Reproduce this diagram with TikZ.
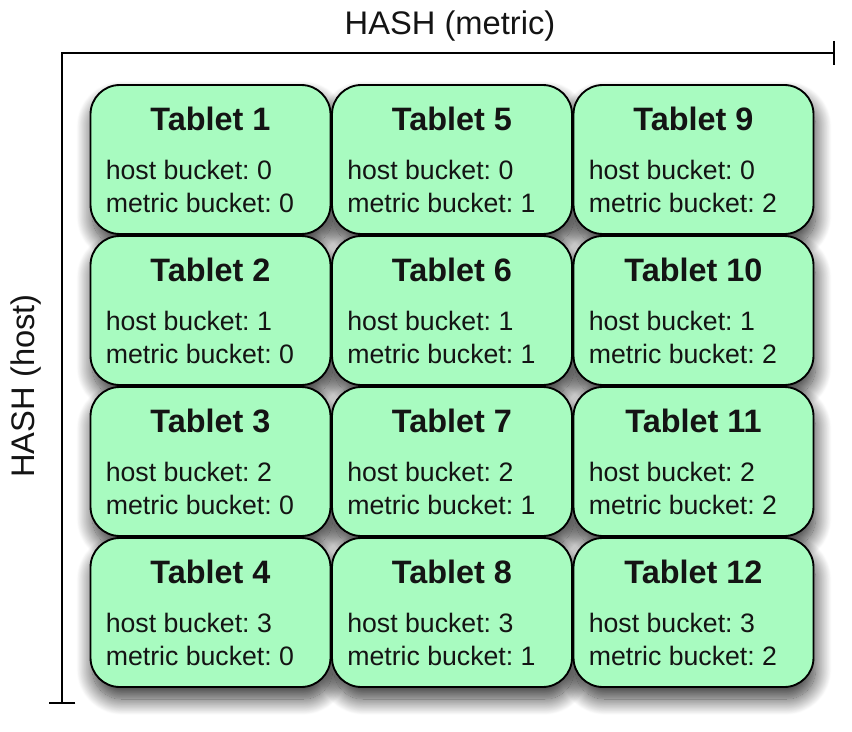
\documentclass[tikz,border=0pt]{standalone}
\usepackage{fontspec}
\setmainfont{Liberation Sans}
\usetikzlibrary{arrows.meta,shadows.blur}
\definecolor{tabletgreen}{RGB}{168,251,192}
\definecolor{textdark}{RGB}{20,20,20}
\frenchspacing

\tikzset{
  tablet/.style={draw=black,line width=1.4pt,fill=tabletgreen,
    rounded corners=22pt,minimum width=180pt,minimum height=111.75pt,inner sep=0pt},
  tabletshadow/.style={rounded corners=22pt,
    blur shadow={shadow xshift=1.5pt,shadow yshift=-9pt,
      shadow blur radius=12pt,shadow blur steps=24,shadow opacity=80}},
  tabtitle/.style={font=\fontsize{24.3}{29}\selectfont\bfseries,text=textdark,inner sep=0pt},
  tabbody/.style={font=\fontsize{20}{24.75}\selectfont,text=textdark,
    align=left,inner sep=0pt},
  axisline/.style={line width=1.8pt,black},
  axislabel/.style={font=\fontsize{24.5}{29}\selectfont,text=textdark}
}

\begin{document}
\begin{tikzpicture}[x=0.75pt,y=-0.75pt]
  \useasboundingbox (0,0) rectangle (852,731);

  % Axes with end bars
  \coordinate (metricend) at (835,53);
  \coordinate (corner) at (62,53);
  \coordinate (hostend) at (62,704);
  \draw[axisline,{Bar[width=20pt,line width=1.8pt]}-{Bar[width=18pt,line width=1.8pt]}]
    (hostend) -- (corner) -- (metricend);
  \node[axislabel] (metriclabel) at (450,26) {HASH (metric)};
  \node[axislabel,rotate=90] (hostlabel) at (26,386) {HASH (host)};

  % Shadows first, so every box sits on top of all of them
  \foreach \col in {0,1,2}
    \foreach \row in {0,...,3}
      \path[tabletshadow] (90.5+241.5*\col,85+151*\row) rectangle ++(240,149);

  % Tablets: column = metric bucket, row = host bucket
  \foreach \col in {0,1,2}
    \foreach \row in {0,...,3} {
      \pgfmathtruncatemacro{\num}{4*\col+\row+1}
      \node[tablet] (tab\num) at (210.5+241.5*\col,159.5+151*\row) {};
      \node[tabtitle,anchor=base] (title\num) at ([yshift=22pt]tab\num.center) {Tablet \num};
      % base of a two-line node is its last line
      \node[tabbody,anchor=base west] (info\num) at ([xshift=12pt,yshift=-40pt]tab\num.west)
        {host bucket: \row\\metric bucket: \col};
    }

\end{tikzpicture}
\end{document}
